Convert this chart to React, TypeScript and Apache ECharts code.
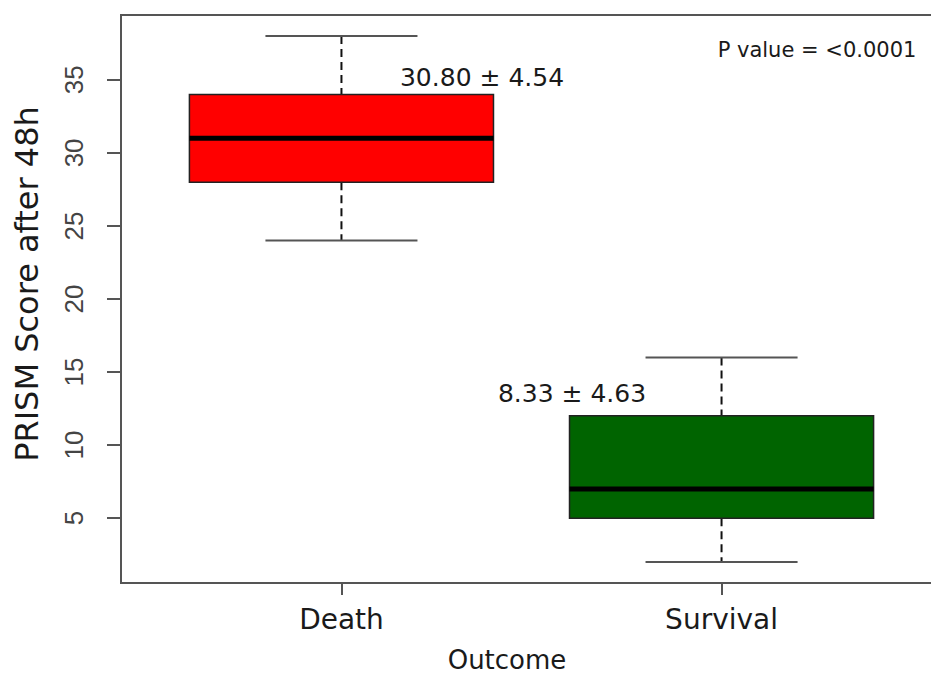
import React, { useEffect, useRef } from "react";
import * as echarts from "echarts";

const categories = ["Death", "Survival"];
const lowerWhisker = [24, 2];
const q1 = [28, 5];
const median = [31, 7];
const q3 = [34, 12];
const upperWhisker = [38, 16];
const outliers = [[2, 23]];
const boxColors = ["#FF0000", "#006400"];
const meanSdLabels = ["30.80 ± 4.54", "8.33 ± 4.63"];
const pValueLabel = "P value = <0.0001";
const yTicks = [5, 10, 15, 20, 25, 30, 35];
const xTicks = [1, 2];
const xTitle = "Outcome";
const yTitle = "PRISM Score after 48h";

const handFont = "'DejaVu Sans', sans-serif";
const tickFont = "'Liberation Sans', Arial, sans-serif";

export default function App() {
  const ref = useRef<HTMLDivElement>(null);
  useEffect(() => {
    document.body.style.margin = "0";
    if (!ref.current) return;
    const chart = echarts.init(ref.current, undefined, { renderer: "svg" });
    const boxData = categories.map((_, i) => [
      i + 1,
      lowerWhisker[i],
      q1[i],
      median[i],
      q3[i],
      upperWhisker[i],
    ]);
    const option: any = {
      animation: false,
      backgroundColor: "#ffffff",
      grid: {
        left: 121,
        top: 15,
        width: 821,
        height: 568,
        outerBoundsMode: "none",
        containLabel: false,
        show: true,
        borderColor: "#555",
        borderWidth: 2,
        backgroundColor: "transparent",
      },
      xAxis: {
        type: "value",
        min: 0.42,
        max: 2.58,
        splitLine: { show: false },
        axisLine: { show: true, onZero: false, lineStyle: { color: "#555", width: 2 } },
        axisTick: { show: true, customValues: xTicks, length: 12, lineStyle: { color: "#555", width: 2 } },
        axisLabel: {
          show: true,
          customValues: xTicks,
          formatter: (v: number) => categories[Math.round(v) - 1] ?? "",
          margin: 22,
          fontFamily: handFont,
          fontSize: 28,
          color: "#1a1a1a",
        },
      },
      yAxis: {
        type: "value",
        min: 0.56,
        max: 39.44,
        splitLine: { show: false },
        axisLine: { show: true, onZero: false, lineStyle: { color: "#555", width: 2 } },
        axisTick: { show: true, customValues: yTicks, length: 14, lineStyle: { color: "#555", width: 2 } },
        axisLabel: {
          show: true,
          customValues: yTicks,
          rotate: 90,
          margin: 34,
          fontFamily: tickFont,
          fontSize: 26,
          color: "#444",
        },
      },
      series: [
        {
          type: "custom",
          data: boxData,
          clip: false,
          renderItem: (params: any, api: any) => {
            const x = api.value(0);
            const lo = api.value(1);
            const a = api.value(2);
            const m = api.value(3);
            const b = api.value(4);
            const hi = api.value(5);
            const bw = 0.4;
            const cw = 0.2;
            const pHi = api.coord([x, hi]);
            const pB = api.coord([x, b]);
            const pA = api.coord([x, a]);
            const pLo = api.coord([x, lo]);
            const capHiL = api.coord([x - cw, hi]);
            const capHiR = api.coord([x + cw, hi]);
            const capLoL = api.coord([x - cw, lo]);
            const capLoR = api.coord([x + cw, lo]);
            const boxTL = api.coord([x - bw, b]);
            const boxBR = api.coord([x + bw, a]);
            const medL = api.coord([x - bw, m]);
            const medR = api.coord([x + bw, m]);
            const color = boxColors[params.dataIndex];
            return {
              type: "group",
              children: [
                {
                  type: "line",
                  shape: { x1: pHi[0], y1: pHi[1], x2: pB[0], y2: pB[1] },
                  style: { stroke: "#111", lineWidth: 2, lineDash: [8, 5] },
                },
                {
                  type: "line",
                  shape: { x1: pA[0], y1: pA[1], x2: pLo[0], y2: pLo[1] },
                  style: { stroke: "#111", lineWidth: 2, lineDash: [8, 5] },
                },
                {
                  type: "line",
                  shape: { x1: capHiL[0], y1: capHiL[1], x2: capHiR[0], y2: capHiR[1] },
                  style: { stroke: "#555", lineWidth: 2 },
                },
                {
                  type: "line",
                  shape: { x1: capLoL[0], y1: capLoL[1], x2: capLoR[0], y2: capLoR[1] },
                  style: { stroke: "#555", lineWidth: 2 },
                },
                {
                  type: "rect",
                  shape: {
                    x: boxTL[0],
                    y: boxTL[1],
                    width: boxBR[0] - boxTL[0],
                    height: boxBR[1] - boxTL[1],
                  },
                  style: { fill: color, stroke: "#222", lineWidth: 1.5 },
                },
                {
                  type: "line",
                  shape: { x1: medL[0], y1: medL[1], x2: medR[0], y2: medR[1] },
                  style: { stroke: "#000", lineWidth: 5 },
                },
              ],
            };
          },
        },
        {
          type: "scatter",
          data: outliers,
          symbol: "emptyCircle",
          symbolSize: 10,
          itemStyle: { color: "#fff", borderColor: "#777", borderWidth: 2 },
        },
      ],
      graphic: [
        {
          type: "text",
          x: 482,
          y: 77,
          style: {
            text: meanSdLabels[0],
            textAlign: "center",
            textVerticalAlign: "middle",
            fontFamily: handFont,
            fontSize: 25,
            fill: "#1a1a1a",
          },
        },
        {
          type: "text",
          x: 572,
          y: 393,
          style: {
            text: meanSdLabels[1],
            textAlign: "center",
            textVerticalAlign: "middle",
            fontFamily: handFont,
            fontSize: 25,
            fill: "#1a1a1a",
          },
        },
        {
          type: "text",
          x: 817,
          y: 50,
          style: {
            text: pValueLabel,
            textAlign: "center",
            textVerticalAlign: "middle",
            fontFamily: handFont,
            fontSize: 21,
            fill: "#1a1a1a",
          },
        },
        {
          type: "text",
          x: 507,
          y: 660,
          style: {
            text: xTitle,
            textAlign: "center",
            textVerticalAlign: "middle",
            fontFamily: handFont,
            fontSize: 26,
            fill: "#1a1a1a",
          },
        },
        {
          type: "text",
          x: 27,
          y: 284,
          rotation: Math.PI / 2,
          style: {
            text: yTitle,
            textAlign: "center",
            textVerticalAlign: "middle",
            fontFamily: handFont,
            fontSize: 32,
            fill: "#1a1a1a",
          },
        },
      ],
    };
    chart.setOption(option);
    return () => chart.dispose();
  }, []);
  return <div ref={ref} style={{ width: 931, height: 675 }} />;
}
